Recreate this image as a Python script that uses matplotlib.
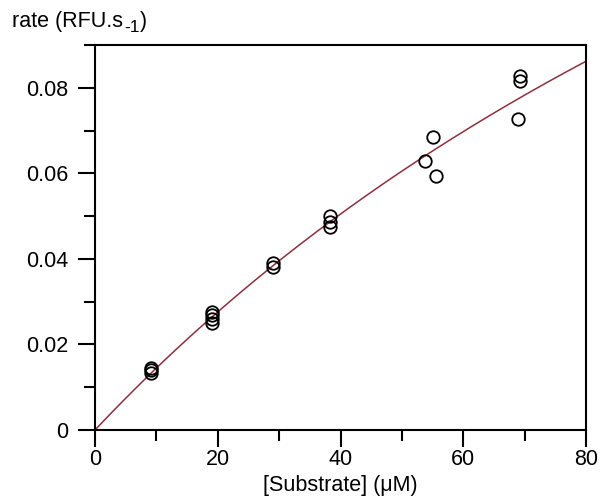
import numpy as np
import matplotlib
matplotlib.use("Agg")
import matplotlib.pyplot as plt
from matplotlib.ticker import MultipleLocator, FixedLocator

plt.rcParams['font.family'] = ['Liberation Sans', 'DejaVu Sans']

# Data
substrate = [9.1, 9.1, 9.1,
             19.0, 19.0, 19.0, 19.0,
             29.0, 29.0,
             38.3, 38.3, 38.3,
             53.7, 55.1, 55.6,
             69.2, 69.2, 68.9]
rate = [0.0133, 0.0140, 0.0146,
        0.0250, 0.0260, 0.0268, 0.0276,
        0.0380, 0.0390,
        0.0475, 0.0487, 0.0500,
        0.0628, 0.0685, 0.0593,
        0.0817, 0.0828, 0.0727]

# Michaelis-Menten fit parameters (estimated from the drawn curve)
vmax = 0.2947
km = 193.5

x_ticks = [0, 20, 40, 60, 80]
y_ticks = [0, 0.02, 0.04, 0.06, 0.08]
y_tick_labels = ['0', '0.02', '0.04', '0.06', '0.08']

fig = plt.figure(figsize=(6.0, 5.04), dpi=100)
ax = fig.add_axes([95/600, 1 - 430/504, (586 - 95)/600, (430 - 45)/504])

xs = np.linspace(0, 80, 400)
ax.plot(xs, vmax * xs / (km + xs), color='#8e2f3e', lw=1.1, zorder=2)
ax.plot(substrate, rate, linestyle='none', marker='o', markersize=9,
        markerfacecolor='none', markeredgecolor='black', markeredgewidth=1.3,
        zorder=3, clip_on=False)

ax.set_xlim(0, 80)
ax.set_ylim(0, 0.09)
ax.xaxis.set_major_locator(FixedLocator(x_ticks))
ax.xaxis.set_minor_locator(MultipleLocator(10))
ax.yaxis.set_major_locator(FixedLocator(y_ticks))
ax.yaxis.set_minor_locator(MultipleLocator(0.01))
ax.set_yticklabels(y_tick_labels)

for s in ax.spines.values():
    s.set_linewidth(1.5)
ax.tick_params(which='major', direction='out', length=12, width=1.5,
               labelsize=15.5, top=False, right=False)
ax.tick_params(which='minor', direction='out', length=8, width=1.5,
               top=False, right=False)
ax.tick_params(axis='x', which='major', pad=2)
ax.tick_params(axis='y', which='major', pad=7)

t1 = fig.text(12/600, 1 - 22/504, 'rate (RFU.s', fontsize=15.5,
              ha='left', va='center')
ax.annotate('-1', xy=(1, 0), xycoords=t1, xytext=(1, -2),
            textcoords='offset points', fontsize=12.5,
            ha='left', va='bottom', annotation_clip=False)
ax.annotate(')', xy=(1, 0), xycoords=t1, xytext=(12.5, 0),
            textcoords='offset points', fontsize=15.5,
            ha='left', va='bottom', annotation_clip=False)
fig.text((95 + 586) / 2 / 600, 1 - 486/504, '[Substrate] (μM)', fontsize=15.5,
         ha='center', va='center')

fig.savefig('out.png', dpi=100)
